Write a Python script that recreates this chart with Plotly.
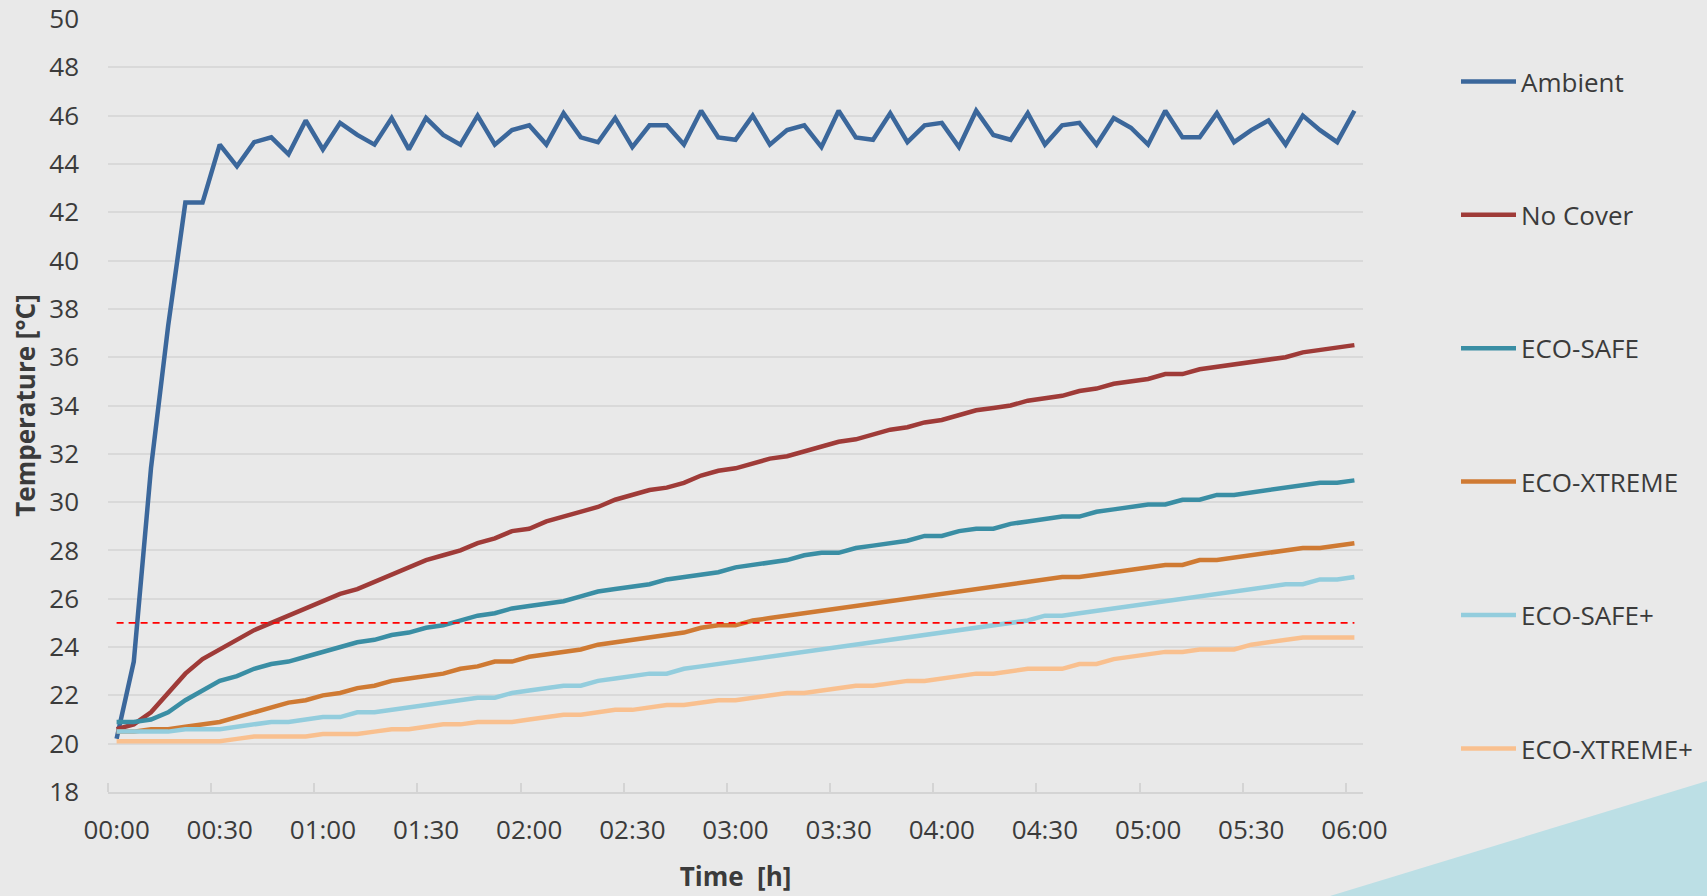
import plotly.graph_objects as go

# ---------------- data (5-minute readings, 00:00 .. 06:00) ----------------
minutes = list(range(0, 361, 5))  # category positions (73 readings)

tick_minutes = [0, 30, 60, 90, 120, 150, 180, 210, 240, 270, 300, 330, 360]
tick_labels = ["00:00", "00:30", "01:00", "01:30", "02:00", "02:30", "03:00",
               "03:30", "04:00", "04:30", "05:00", "05:30", "06:00"]

ambient = [20.2, 23.4, 31.4, 37.3, 42.4, 42.4, 44.8, 43.9, 44.9, 45.1, 44.4, 45.8,
           44.6, 45.7, 45.2, 44.8, 45.9, 44.6, 45.9, 45.2, 44.8, 46.0, 44.8, 45.4,
           45.6, 44.8, 46.1, 45.1, 44.9, 45.9, 44.7, 45.6, 45.6, 44.8, 46.2, 45.1,
           45.0, 46.0, 44.8, 45.4, 45.6, 44.7, 46.2, 45.1, 45.0, 46.1, 44.9, 45.6,
           45.7, 44.7, 46.2, 45.2, 45.0, 46.1, 44.8, 45.6, 45.7, 44.8, 45.9, 45.5,
           44.8, 46.2, 45.1, 45.1, 46.1, 44.9, 45.4, 45.8, 44.8, 46.0, 45.4, 44.9, 46.2]

no_cover = [20.6, 20.8, 21.3, 22.1, 22.9, 23.5, 23.9, 24.3, 24.7, 25.0, 25.3, 25.6,
            25.9, 26.2, 26.4, 26.7, 27.0, 27.3, 27.6, 27.8, 28.0, 28.3, 28.5, 28.8,
            28.9, 29.2, 29.4, 29.6, 29.8, 30.1, 30.3, 30.5, 30.6, 30.8, 31.1, 31.3,
            31.4, 31.6, 31.8, 31.9, 32.1, 32.3, 32.5, 32.6, 32.8, 33.0, 33.1, 33.3,
            33.4, 33.6, 33.8, 33.9, 34.0, 34.2, 34.3, 34.4, 34.6, 34.7, 34.9, 35.0,
            35.1, 35.3, 35.3, 35.5, 35.6, 35.7, 35.8, 35.9, 36.0, 36.2, 36.3, 36.4, 36.5]

eco_safe = [20.9, 20.9, 21.0, 21.3, 21.8, 22.2, 22.6, 22.8, 23.1, 23.3, 23.4, 23.6,
            23.8, 24.0, 24.2, 24.3, 24.5, 24.6, 24.8, 24.9, 25.1, 25.3, 25.4, 25.6,
            25.7, 25.8, 25.9, 26.1, 26.3, 26.4, 26.5, 26.6, 26.8, 26.9, 27.0, 27.1,
            27.3, 27.4, 27.5, 27.6, 27.8, 27.9, 27.9, 28.1, 28.2, 28.3, 28.4, 28.6,
            28.6, 28.8, 28.9, 28.9, 29.1, 29.2, 29.3, 29.4, 29.4, 29.6, 29.7, 29.8,
            29.9, 29.9, 30.1, 30.1, 30.3, 30.3, 30.4, 30.5, 30.6, 30.7, 30.8, 30.8, 30.9]

eco_xtreme = [20.5, 20.5, 20.6, 20.6, 20.7, 20.8, 20.9, 21.1, 21.3, 21.5, 21.7, 21.8,
              22.0, 22.1, 22.3, 22.4, 22.6, 22.7, 22.8, 22.9, 23.1, 23.2, 23.4, 23.4,
              23.6, 23.7, 23.8, 23.9, 24.1, 24.2, 24.3, 24.4, 24.5, 24.6, 24.8, 24.9,
              24.9, 25.1, 25.2, 25.3, 25.4, 25.5, 25.6, 25.7, 25.8, 25.9, 26.0, 26.1,
              26.2, 26.3, 26.4, 26.5, 26.6, 26.7, 26.8, 26.9, 26.9, 27.0, 27.1, 27.2,
              27.3, 27.4, 27.4, 27.6, 27.6, 27.7, 27.8, 27.9, 28.0, 28.1, 28.1, 28.2, 28.3]

eco_safe_plus = [20.5, 20.5, 20.5, 20.5, 20.6, 20.6, 20.6, 20.7, 20.8, 20.9, 20.9, 21.0,
                 21.1, 21.1, 21.3, 21.3, 21.4, 21.5, 21.6, 21.7, 21.8, 21.9, 21.9, 22.1,
                 22.2, 22.3, 22.4, 22.4, 22.6, 22.7, 22.8, 22.9, 22.9, 23.1, 23.2, 23.3,
                 23.4, 23.5, 23.6, 23.7, 23.8, 23.9, 24.0, 24.1, 24.2, 24.3, 24.4, 24.5,
                 24.6, 24.7, 24.8, 24.9, 25.0, 25.1, 25.3, 25.3, 25.4, 25.5, 25.6, 25.7,
                 25.8, 25.9, 26.0, 26.1, 26.2, 26.3, 26.4, 26.5, 26.6, 26.6, 26.8, 26.8, 26.9]

eco_xtreme_plus = [20.1, 20.1, 20.1, 20.1, 20.1, 20.1, 20.1, 20.2, 20.3, 20.3, 20.3, 20.3,
                   20.4, 20.4, 20.4, 20.5, 20.6, 20.6, 20.7, 20.8, 20.8, 20.9, 20.9, 20.9,
                   21.0, 21.1, 21.2, 21.2, 21.3, 21.4, 21.4, 21.5, 21.6, 21.6, 21.7, 21.8,
                   21.8, 21.9, 22.0, 22.1, 22.1, 22.2, 22.3, 22.4, 22.4, 22.5, 22.6, 22.6,
                   22.7, 22.8, 22.9, 22.9, 23.0, 23.1, 23.1, 23.1, 23.3, 23.3, 23.5, 23.6,
                   23.7, 23.8, 23.8, 23.9, 23.9, 23.9, 24.1, 24.2, 24.3, 24.4, 24.4, 24.4, 24.4]

threshold = [25.0] * len(minutes)

series_names = ["Ambient", "No Cover", "ECO-SAFE", "ECO-XTREME", "ECO-SAFE+", "ECO-XTREME+"]
series_values = [ambient, no_cover, eco_safe, eco_xtreme, eco_safe_plus, eco_xtreme_plus]
series_colors = ["#3b679b", "#9f3b38", "#3a8ea4", "#cf7a33", "#93cddd", "#f9c08f"]

# ---------------- figure ----------------
W, H = 1707, 896
ML, MR, MT, MB = 108, 344, 19, 104
PW, PH = W - ML - MR, H - MT - MB

fig = go.Figure()
for name, vals, col in zip(series_names, series_values, series_colors):
    fig.add_trace(go.Scatter(
        x=minutes, y=vals, name=name, mode="lines",
        line=dict(color=col, width=4.5),
        legendgroup=name,
    ))

fig.add_trace(go.Scatter(
    x=minutes, y=threshold, mode="lines", showlegend=False, hoverinfo="skip",
    line=dict(color="#ff0000", width=1.8, dash="7px,5px"),
))

txt = "#3b3b3b"
font_family = "Open Sans, Liberation Sans, sans-serif"


def px_to_paper_x(px):
    return (px - ML) / PW


def px_to_paper_y(py):
    return (H - MB - py) / PH


# decorative triangle bottom-right
tri = [(1330, 896), (1707, 781), (1707, 896)]
path = "M " + " L ".join(f"{px_to_paper_x(a):.4f},{px_to_paper_y(b):.4f}" for a, b in tri) + " Z"
fig.add_shape(type="path", path=path, xref="paper", yref="paper",
              fillcolor="#bcdfe5", line=dict(width=0), layer="below")

fig.update_layout(
    width=W, height=H,
    margin=dict(l=ML, r=MR, t=MT, b=MB, autoexpand=False),
    paper_bgcolor="#e9e9e9", plot_bgcolor="#e9e9e9",
    font=dict(family=font_family, color=txt, size=26),
    showlegend=True,
    legend=dict(
        x=px_to_paper_x(1456), y=px_to_paper_y(58), xanchor="left", yanchor="top",
        font=dict(size=26, color=txt), bgcolor="rgba(0,0,0,0)",
        tracegroupgap=96.6, itemwidth=55,
    ),
    xaxis=dict(
        range=[-2.5, 362.5], tickmode="array", tickvals=tick_minutes, ticktext=tick_labels,
        ticks="", showgrid=False, zeroline=False,
        showline=True, linecolor="#d4d4d4", linewidth=1.5,
        tickfont=dict(size=26, color=txt), ticklabelstandoff=14,
        minor=dict(tick0=-2.5, dtick=30, ticks="inside", ticklen=9,
                   tickcolor="#d4d4d4", tickwidth=1.5, showgrid=False),
        title=dict(text="<b>Time\u00a0\u00a0[h]</b>", font=dict(size=26, color=txt), standoff=22),
        fixedrange=True,
    ),
    yaxis=dict(
        range=[18, 50], tickmode="linear", tick0=18, dtick=2,
        showgrid=True, gridcolor="#d9d9d9", gridwidth=1.5, zeroline=False,
        showline=False, ticks="",
        tickfont=dict(size=26, color=txt), ticklabelstandoff=28,
        title=dict(text="<b>Temperature [°C]</b>", font=dict(size=26, color=txt), standoff=6),
        fixedrange=True,
    ),
)

fig.write_html("out.html", config={"displayModeBar": False},
               post_script="document.body.style.margin='0';document.body.style.overflow='hidden';")
